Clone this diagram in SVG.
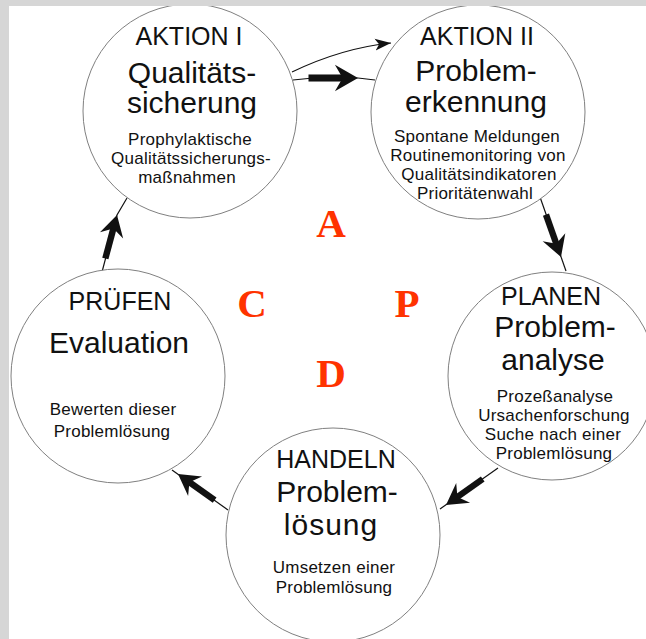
<svg xmlns="http://www.w3.org/2000/svg" xmlns:xlink="http://www.w3.org/1999/xlink" width="646" height="639" viewBox="0 0 646 639">
<style>
.c{fill:#fff;stroke:#808080;stroke-width:1}
.t{font-family:"Liberation Sans",Arial,sans-serif;fill:#111;text-anchor:middle}
.h{font-size:25px}
.b{font-size:30px}
.s{font-size:17px;letter-spacing:0.25px}
.L{font-family:"Liberation Serif","Times New Roman",serif;font-weight:bold;font-size:41px;fill:#ff3300;text-anchor:middle}
.ln{fill:none;stroke:#111;stroke-width:1.2}
</style>
<defs>
<marker id="thinHead" markerUnits="userSpaceOnUse" markerWidth="18" markerHeight="14" refX="16" refY="7" orient="auto" viewBox="0 0 18 14">
<path d="M0,1 L16,7 L0,13 L4,7 Z" fill="#111"/>
</marker>
<g id="thick" fill="#111">
<rect x="-45" y="-3.2" width="32" height="6.4"/>
<path d="M0,0 L-21,-12 L-14,0 L-21,12 Z"/>
</g>
</defs>
<rect width="646" height="639" fill="#fff"/>
<g id="connectors">
<path class="ln" d="M292,72 Q342,48 391,43" marker-end="url(#thinHead)"/>
<polyline class="ln" points="293,80 313,78 358,78 375,80"/>
<use xlink:href="#thick" href="#thick" transform="translate(358,78) scale(1.1)"/>
<line class="ln" x1="540" y1="197" x2="566" y2="271"/>
<use xlink:href="#thick" href="#thick" transform="translate(561,257) rotate(70.5)"/>
<line class="ln" x1="498" y1="468" x2="440" y2="509"/>
<use xlink:href="#thick" href="#thick" transform="translate(446,505) rotate(144.7)"/>
<line class="ln" x1="228" y1="510" x2="172" y2="470"/>
<use xlink:href="#thick" href="#thick" transform="translate(178,474) rotate(-144.5)"/>
<polyline class="ln" points="102,272 117,215 127,198"/>
<use xlink:href="#thick" href="#thick" transform="translate(117,215) rotate(-75)"/>
</g>
<g id="aktion1">
<circle class="c" cx="190" cy="111" r="107"/>
<text class="t h" x="189" y="45">AKTION I</text>
<text class="t b" x="192" y="83">Qualitäts-</text>
<text class="t b" x="192" y="113">sicherung</text>
<text class="t s" x="190" y="145">Prophylaktische</text>
<text class="t s" x="191" y="164">Qualitätssicherungs-</text>
<text class="t s" x="187" y="183">maßnahmen</text>
</g>
<g id="aktion2">
<circle class="c" cx="478" cy="112" r="107"/>
<text class="t h" x="477" y="45">AKTION II</text>
<text class="t b" x="476" y="81">Problem-</text>
<text class="t b" x="476" y="112">erkennung</text>
<text class="t s" x="477" y="142">Spontane Meldungen</text>
<text class="t s" x="478" y="161">Routinemonitoring von</text>
<text class="t s" x="479" y="180">Qualitätsindikatoren</text>
<text class="t s" x="475" y="199">Prioritätenwahl</text>
</g>
<g id="planen">
<circle class="c" cx="552" cy="376" r="104"/>
<text class="t h" x="551" y="305">PLANEN</text>
<text class="t b" x="555" y="337">Problem-</text>
<text class="t b" x="553" y="370">analyse</text>
<text class="t s" x="555" y="402">Prozeßanalyse</text>
<text class="t s" x="554" y="421">Ursachenforschung</text>
<text class="t s" x="553" y="440">Suche nach einer</text>
<text class="t s" x="554" y="459">Problemlösung</text>
</g>
<g id="handeln">
<circle class="c" cx="333" cy="535" r="107"/>
<text class="t h" x="336" y="468">HANDELN</text>
<text class="t b" x="337" y="502">Problem-</text>
<text class="t b" x="331" y="535" style="letter-spacing:1px">lösung</text>
<text class="t s" x="334" y="573">Umsetzen einer</text>
<text class="t s" x="334" y="593">Problemlösung</text>
</g>
<g id="pruefen">
<circle class="c" cx="118" cy="376" r="107"/>
<text class="t h" x="120" y="310">PRÜFEN</text>
<text class="t b" x="119" y="353">Evaluation</text>
<text class="t s" x="113" y="415">Bewerten dieser</text>
<text class="t s" x="112" y="437">Problemlösung</text>
</g>
<g id="pdca">
<text class="L" x="331" y="237">A</text>
<text class="L" x="252" y="317">C</text>
<text class="L" x="407" y="317">P</text>
<text class="L" x="331" y="387">D</text>
</g>
<rect x="0" y="0" width="646" height="6" fill="#d6d6d6"/>
<rect x="0" y="0" width="9" height="639" fill="#d6d6d6"/>
</svg>
